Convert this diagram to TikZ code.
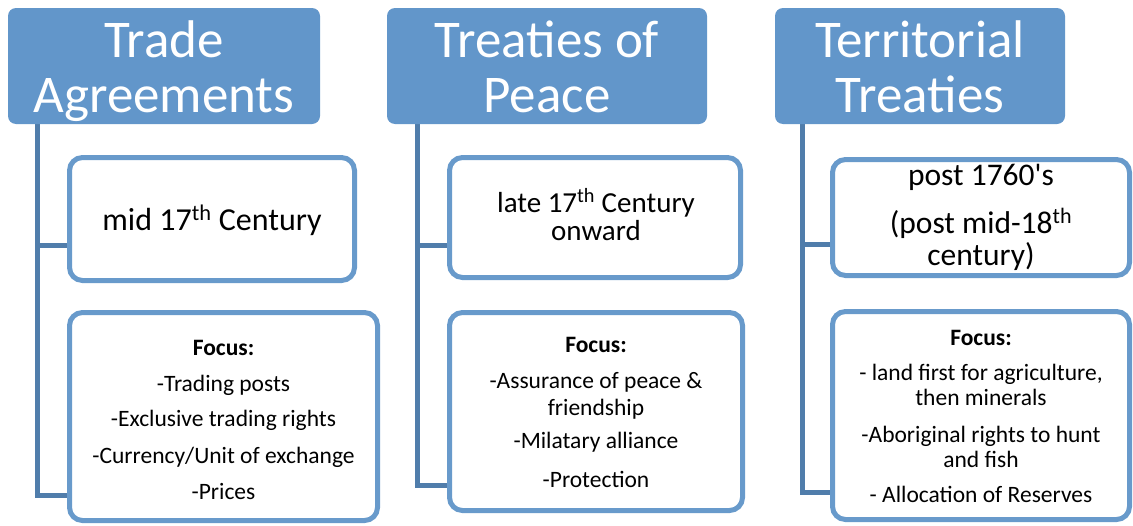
\documentclass[tikz,border=0pt]{standalone}
\usepackage{fontspec}
\setmainfont{Carlito}
% same face without TeX ligature mapping, for the straight apostrophe
\newfontfamily\plainface{Carlito}
\usetikzlibrary{backgrounds}
\definecolor{hdrblue}{RGB}{98,150,202}
\definecolor{boxblue}{RGB}{104,154,203}
\definecolor{linkblue}{RGB}{80,125,171}
\tikzset{
  hdr/.style={fill=hdrblue, rounded corners=8pt, inner sep=0pt},
  itembox/.style={draw=boxblue, line width=5pt, fill=white, rounded corners=13pt, inner sep=0pt},
  link/.style={draw=linkblue, line width=5pt},
  htext/.style={anchor=base, text=white, font=\fontsize{53}{55}\selectfont, inner sep=0pt},
  dtext/.style={anchor=base, font=\fontsize{32}{36}\selectfont, inner sep=0pt},
  ftext/.style={anchor=base, font=\fontsize{23.5}{27}\selectfont, inner sep=0pt},
}
\newcommand{\thsup}{\textsuperscript{th}}
\newcommand{\straightapos}{{\plainface'}}
\begin{document}
\begin{tikzpicture}[x=1pt,y=-1pt]
\useasboundingbox (0,0) rectangle (1133,525);

% column headers
\node[hdr, minimum width=312pt, minimum height=116pt] (h1) at (164,66) {};
\node[hdr, minimum width=320pt, minimum height=116pt] (h2) at (547,66) {};
\node[hdr, minimum width=290pt, minimum height=116pt] (h3) at (920,66) {};

% period boxes
\node[itembox, minimum width=285pt, minimum height=123pt] (b1) at (212,219) {};
\node[itembox, minimum width=291pt, minimum height=120pt] (b2) at (595,217.5) {};
\node[itembox, minimum width=297pt, minimum height=116pt] (b3) at (981,217.5) {};

% focus boxes
\node[itembox, minimum width=308pt, minimum height=208pt] (f1) at (223.5,416.5) {};
\node[itembox, minimum width=293pt, minimum height=198pt] (f2) at (596,411.5) {};
\node[itembox, minimum width=297pt, minimum height=208pt] (f3) at (981,415.5) {};

% trunk lines and branches
\coordinate (t1) at (37,0);
\coordinate (t2) at (417,0);
\coordinate (t3) at (802,0);
\coordinate (b1j) at ([yshift=37.5pt]b1.south west);
\coordinate (b2j) at ([yshift=34.5pt]b2.south west);
\coordinate (b3j) at ([yshift=33.5pt]b3.south west);
\coordinate (f1j) at ([yshift=27.5pt]f1.south west);
\coordinate (f2j) at ([yshift=27.5pt]f2.south west);
\coordinate (f3j) at ([yshift=29.5pt]f3.south west);
\begin{scope}[on background layer]
  \draw[link] (t1 |- h1.south) |- (f1j);
  \draw[link] (b1j -| t1) -- (b1j);
  \draw[link] (t2 |- h2.south) |- (f2j);
  \draw[link] (b2j -| t2) -- (b2j);
  \draw[link] (t3 |- h3.south) |- (f3j);
  \draw[link] (b3j -| t3) -- (b3j);
\end{scope}

% header texts
\node[htext] (h1a) at (164,57) {Trade};
\node[htext] (h1b) at (164,112) {Agreements};
\node[htext] (h2a) at (547,57) {Treaties of};
\node[htext] (h2b) at (547,112) {Peace};
\node[htext] (h3a) at (920,57) {Territorial};
\node[htext] (h3b) at (920,112) {Treaties};

% period texts
\node[dtext] (b1a) at (212,230) {mid 17\thsup{} Century};
\node[dtext, font=\fontsize{29}{33}\selectfont] (b2a) at (596,212) {late 17\thsup{} Century};
\node[dtext, font=\fontsize{29}{33}\selectfont] (b2b) at (596,240) {onward};
\node[dtext, font=\fontsize{31.5}{35}\selectfont] (b3a) at (981,185) {post 1760\straightapos s};
\node[dtext, font=\fontsize{31.5}{35}\selectfont] (b3b) at (981,233) {(post mid-18\thsup};
\node[dtext, font=\fontsize{31.5}{35}\selectfont] (b3c) at (981,265) {century)};

% focus texts
\node[ftext] (f1a) at (223.5,355) {\bfseries Focus:};
\node[ftext] (f1b) at (223.5,391) {-Trading posts};
\node[ftext] (f1c) at (223.5,426) {-Exclusive trading rights};
\node[ftext] (f1d) at (223.5,463) {-Currency/Unit of exchange};
\node[ftext] (f1e) at (223.5,499) {-Prices};

\node[ftext] (f2a) at (596,352) {\bfseries Focus:};
\node[ftext] (f2b) at (596,388) {-Assurance of peace \&};
\node[ftext] (f2c) at (596,415) {friendship};
\node[ftext] (f2d) at (596,448) {-Milatary alliance};
\node[ftext] (f2e) at (596,487) {-Protection};

\node[ftext] (f3a) at (981,345) {\bfseries Focus:};
\node[ftext] (f3b) at (981,380) {- land first for agriculture,};
\node[ftext] (f3c) at (981,405) {then minerals};
\node[ftext] (f3d) at (981,442) {-Aboriginal rights to hunt};
\node[ftext] (f3e) at (981,467) {and fish};
\node[ftext] (f3f) at (981,502) {- Allocation of Reserves};
\end{tikzpicture}
\end{document}
